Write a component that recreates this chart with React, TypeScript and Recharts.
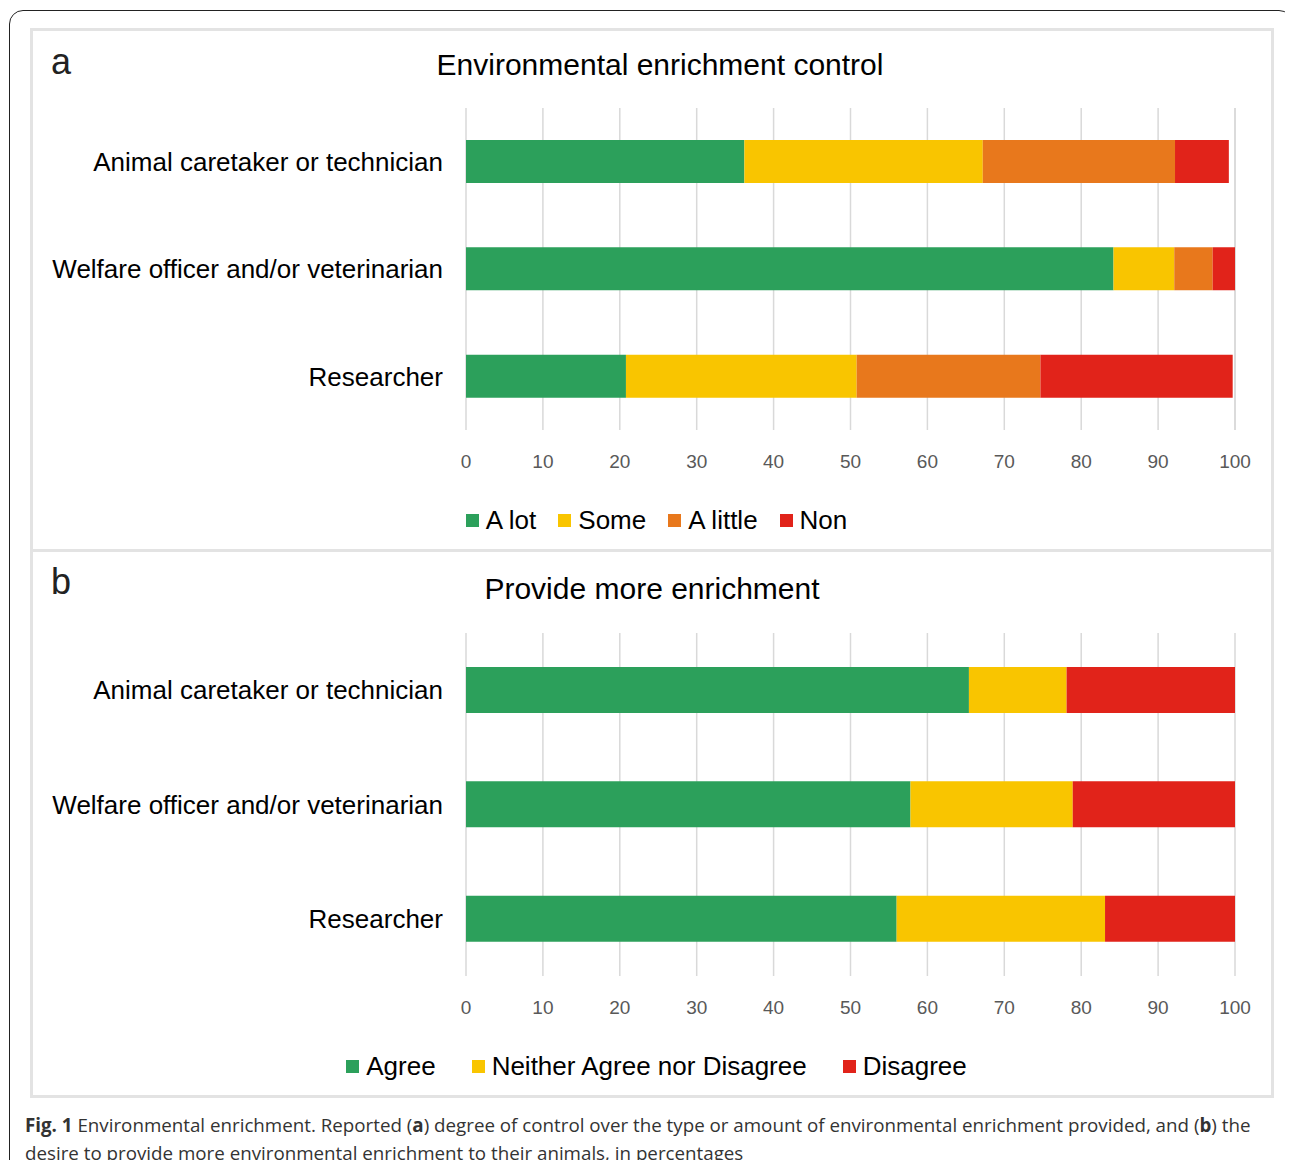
import { BarChart, Bar, XAxis, YAxis, CartesianGrid, Legend } from 'recharts';

const roles = ['Animal caretaker or technician', 'Welfare officer and/or veterinarian', 'Researcher'];
const xTicks = [0, 10, 20, 30, 40, 50, 60, 70, 80, 90, 100];

// panel a: control over enrichment (%)
const controlKeys = ['A lot', 'Some', 'A little', 'Non'];
const aLot = [36.2, 84.2, 20.8];
const some = [31.0, 7.9, 30.0];
const aLittle = [25.0, 5.0, 23.9];
const non = [7.0, 2.9, 25.0];

// panel b: provide more enrichment (%)
const desireKeys = ['Agree', 'Neither Agree nor Disagree', 'Disagree'];
const agree = [65.4, 57.8, 56.0];
const neither = [12.7, 21.1, 27.1];
const disagree = [21.9, 21.1, 16.9];

const GREEN = '#2ca05b';
const YELLOW = '#f9c500';
const ORANGE = '#e8781c';
const RED = '#e1231a';

const controlColors = [GREEN, YELLOW, ORANGE, RED];
const desireColors = [GREEN, YELLOW, RED];

const controlData = roles.map((name, i) => ({
  name,
  'A lot': aLot[i],
  Some: some[i],
  'A little': aLittle[i],
  Non: non[i],
}));

const desireData = roles.map((name, i) => ({
  name,
  Agree: agree[i],
  'Neither Agree nor Disagree': neither[i],
  Disagree: disagree[i],
}));

const FONT = '"Liberation Sans", Arial, sans-serif';

// legend is centred on the whole panel, not on the plot
function makeLegend(keys: string[], colors: string[], gap: number) {
  return () => (
    <div
      style={{
        display: 'flex',
        justifyContent: 'center',
        alignItems: 'center',
        height: 30,
        paddingLeft: 48,
        fontFamily: FONT,
        fontSize: 26,
        color: '#000',
      }}
    >
      {keys.map((k, i) => (
        <div key={k} style={{ display: 'flex', alignItems: 'center', marginRight: i < keys.length - 1 ? gap : 0 }}>
          <span style={{ width: 13, height: 13, background: colors[i], display: 'inline-block', marginRight: 7 }} />
          <span>{k}</span>
        </div>
      ))}
    </div>
  );
}

function Panel({ data, keys, colors, height, barSize, legendGap }: any) {
  return (
    <BarChart
      width={1243}
      height={height}
      data={data}
      layout="vertical"
      margin={{ top: 80, right: 38, left: 0, bottom: 16 }}
    >
      <CartesianGrid horizontal={false} stroke="#d9d9d9" strokeWidth={1.5} />
      <XAxis
        type="number"
        domain={[0, 100]}
        ticks={xTicks}
        interval={0}
        height={75}
        axisLine={false}
        tickLine={false}
        tickSize={0}
        tickMargin={25}
        tick={{ fontSize: 19, fill: '#595959', fontFamily: FONT }}
      />
      <YAxis
        type="category"
        dataKey="name"
        width={436}
        axisLine={false}
        tickLine={false}
        tickSize={0}
        tickMargin={23}
        tick={{ fontSize: 26, fill: '#000', fontFamily: FONT }}
      />
      <Legend verticalAlign="bottom" height={30} content={makeLegend(keys, colors, legendGap)} />
      {keys.map((k: string, i: number) => (
        <Bar key={k} dataKey={k} stackId="s" fill={colors[i]} barSize={barSize} isAnimationActive={false} />
      ))}
    </BarChart>
  );
}

export default function App() {
  return (
    <div style={{ position: 'relative', width: 1293, height: 1168, margin: -8, overflow: 'hidden', background: '#fff' }}>
      {/* outer rounded frame, runs off the bottom */}
      <div
        style={{
          position: 'absolute',
          left: 9,
          top: 10,
          width: 1284,
          height: 1200,
          border: '1.5px solid #222',
          borderRadius: 14,
          boxSizing: 'border-box',
        }}
      />
      {/* panel boxes */}
      <div style={{ position: 'absolute', left: 30, top: 28, width: 1244, height: 524, border: '3px solid #e3e3e3', boxSizing: 'border-box' }} />
      <div style={{ position: 'absolute', left: 30, top: 549, width: 1244, height: 549, border: '3px solid #e3e3e3', boxSizing: 'border-box' }} />

      <div style={{ position: 'absolute', left: 30, top: 28 }}>
        <Panel data={controlData} keys={controlKeys} colors={controlColors} height={523} barSize={43} legendGap={22} />
      </div>
      <div style={{ position: 'absolute', left: 30, top: 553 }}>
        <Panel data={desireData} keys={desireKeys} colors={desireColors} height={544} barSize={46} legendGap={36} />
      </div>

      {/* panel letters and titles */}
      <div style={{ position: 'absolute', left: 51, top: 40, fontFamily: FONT, fontSize: 36, color: '#222', lineHeight: '44px' }}>a</div>
      <div style={{ position: 'absolute', left: 51, top: 560, fontFamily: FONT, fontSize: 36, color: '#222', lineHeight: '44px' }}>b</div>
      <div style={{ position: 'absolute', left: 30, width: 1260, top: 45, textAlign: 'center', fontFamily: FONT, fontSize: 30, color: '#000', lineHeight: '40px' }}>
        Environmental enrichment control
      </div>
      <div style={{ position: 'absolute', left: 30, width: 1244, top: 569, textAlign: 'center', fontFamily: FONT, fontSize: 30, color: '#000', lineHeight: '40px' }}>
        Provide more enrichment
      </div>

      {/* caption */}
      <div style={{ position: 'absolute', left: 25, top: 1111, fontFamily: '"Open Sans", sans-serif', fontSize: 18.75, color: '#333', lineHeight: '27.5px', whiteSpace: 'nowrap' }}>
        <div>
          <b>Fig. 1</b> Environmental enrichment. Reported (<b>a</b>) degree of control over the type or amount of environmental enrichment provided, and (<b>b</b>) the
        </div>
        <div>desire to provide more environmental enrichment to their animals, in percentages</div>
      </div>
    </div>
  );
}
